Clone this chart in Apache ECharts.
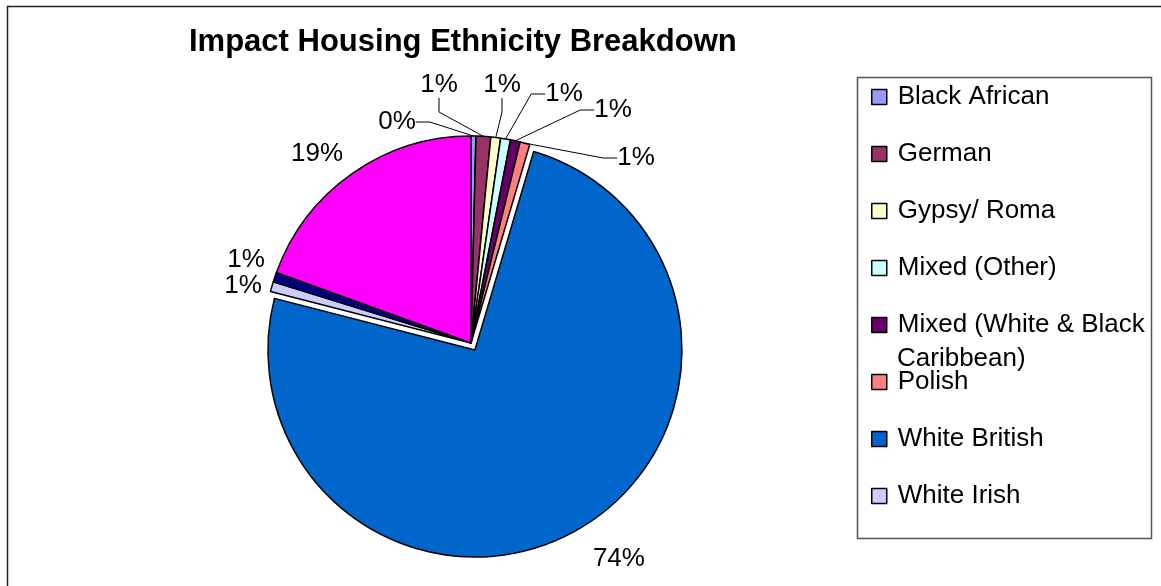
<!DOCTYPE html>
<html>
<head>
<meta charset="utf-8">
<script src="https://cdn.jsdelivr.net/npm/echarts@6/dist/echarts.min.js"></script>
<style>
  html, body { margin: 0; padding: 0; background: #fff; }
  #chart { width: 1161px; height: 586px; }
</style>
</head>
<body>
<div id="chart"></div>
<script>
// slices, clockwise from 12 o'clock
const categories = ['Black African', 'German', 'Gypsy/ Roma', 'Mixed (Other)',
  'Mixed (White & Black Caribbean)', 'Polish', 'White British', 'White Irish',
  'White Other', 'Not Known'];
const counts = [1, 3, 2, 2, 2, 2, 195, 2, 2, 51];
// only the first 8 fit in the legend box
const legendNames = categories.slice(0, 8);
const palette = ['#9999FF', '#993366', '#FFFFCC', '#CCFFFF', '#660066',
  '#FF8080', '#0066CC', '#CCCCFF', '#000080', '#FF00FF'];

// where Excel put the data labels (label centres, px)
const labelPos = [[397, 122], [439, 85], [502, 85], [564, 94], [613, 110],
  [636, 158], [619, 557], [243, 286], [246, 260], [317, 154]];
// labels sitting right next to their slice get no leader line
const noLeader = ['White British', 'White Irish', 'White Other', 'Not Known'];

const font = 'Liberation Sans, Arial, sans-serif';

var chart = echarts.init(document.getElementById('chart'));

chart.setOption({
  animation: false,
  color: palette,
  title: {
    text: 'Impact Housing Ethnicity Breakdown',
    left: 189,
    top: 27,
    padding: 0,
    textStyle: { fontFamily: font, fontSize: 31, fontWeight: 'bold', color: '#000' }
  },
  legend: {
    orient: 'vertical',
    left: 871,
    top: 82,
    padding: 0,
    itemWidth: 15,
    itemHeight: 15,
    itemGap: 27,
    icon: 'rect',
    data: legendNames,
    selectedMode: false,
    itemStyle: { borderColor: '#000', borderWidth: 1.5 },
    formatter: function (name) {
      return name === 'Mixed (White & Black Caribbean)' ? 'Mixed (White & Black' : name;
    },
    textStyle: { fontFamily: font, fontSize: 26, lineHeight: 30, color: '#000', padding: [0, 0, 0, 6] }
  },
  graphic: [
    {
      type: 'rect',
      shape: { x: 7.5, y: 6.5, width: 1200, height: 700 },
      style: { fill: 'none', stroke: '#222', lineWidth: 1.5 },
      silent: true
    },
    {
      type: 'rect',
      shape: { x: 857.5, y: 77.5, width: 294, height: 461 },
      style: { fill: 'none', stroke: '#555', lineWidth: 1.5 },
      silent: true
    },
    {
      type: 'text',
      left: 897,
      top: 346,
      style: { text: 'Caribbean)', font: '26px ' + font, fill: '#000' },
      silent: true
    }
  ],
  series: [
    {
      type: 'pie',
      center: [471, 343],
      radius: 207,
      startAngle: 90,
      clockwise: true,
      selectedMode: 'single',
      selectedOffset: 8,
      avoidLabelOverlap: false,
      itemStyle: { borderColor: '#000', borderWidth: 1.5 },
      emphasis: { disabled: true },
      label: {
        show: true,
        position: 'outside',
        fontFamily: font,
        fontSize: 26,
        color: '#000',
        formatter: function (p) { return Math.round(p.percent) + '%'; }
      },
      labelLine: {
        show: true,
        length: 14,
        length2: 14,
        lineStyle: { color: '#000', width: 1 }
      },
      labelLayout: function (p) {
        var pos = labelPos[p.dataIndex];
        // the exploded slice keeps its own label spot, so nudge it instead
        if (categories[p.dataIndex] === 'White British') {
          return { dx: 16, dy: 17, align: 'center', verticalAlign: 'middle' };
        }
        return { x: pos[0], y: pos[1], align: 'center', verticalAlign: 'middle' };
      },
      data: categories.map(function (name, i) {
        return {
          name: name,
          value: counts[i],
          selected: name === 'White British',
          labelLine: { show: noLeader.indexOf(name) < 0 }
        };
      })
    }
  ]
});
</script>
</body>
</html>
